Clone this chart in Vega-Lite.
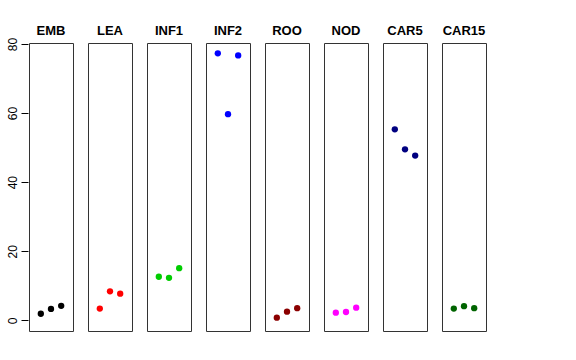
{
  "$schema": "https://vega.github.io/schema/vega-lite/v6.json",
  "padding": {"left": 6, "top": 25, "right": 5, "bottom": 5},
  "background": "white",
  "data": {"values": [
    {"group": "EMB", "idx": 1, "value": 1.9},
    {"group": "EMB", "idx": 2, "value": 3.3},
    {"group": "EMB", "idx": 3, "value": 4.2},
    {"group": "LEA", "idx": 1, "value": 3.4},
    {"group": "LEA", "idx": 2, "value": 8.4},
    {"group": "LEA", "idx": 3, "value": 7.7},
    {"group": "INF1", "idx": 1, "value": 12.6},
    {"group": "INF1", "idx": 2, "value": 12.3},
    {"group": "INF1", "idx": 3, "value": 15.1},
    {"group": "INF2", "idx": 1, "value": 77.3},
    {"group": "INF2", "idx": 2, "value": 59.7},
    {"group": "INF2", "idx": 3, "value": 76.7},
    {"group": "ROO", "idx": 1, "value": 0.75},
    {"group": "ROO", "idx": 2, "value": 2.5},
    {"group": "ROO", "idx": 3, "value": 3.5},
    {"group": "NOD", "idx": 1, "value": 2.2},
    {"group": "NOD", "idx": 2, "value": 2.4},
    {"group": "NOD", "idx": 3, "value": 3.65},
    {"group": "CAR5", "idx": 1, "value": 55.3},
    {"group": "CAR5", "idx": 2, "value": 49.5},
    {"group": "CAR5", "idx": 3, "value": 47.7},
    {"group": "CAR15", "idx": 1, "value": 3.4},
    {"group": "CAR15", "idx": 2, "value": 4.1},
    {"group": "CAR15", "idx": 3, "value": 3.5}
  ]},
  "facet": {
    "column": {
      "field": "group",
      "type": "nominal",
      "sort": ["EMB", "LEA", "INF1", "INF2", "ROO", "NOD", "CAR5", "CAR15"],
      "header": {
        "title": null,
        "labelFont": "Liberation Sans",
        "labelFontWeight": "bold",
        "labelFontSize": 13,
        "labelColor": "black",
        "labelPadding": 4
      }
    }
  },
  "spacing": 13,
  "spec": {
    "width": 44,
    "height": 288,
    "mark": {"type": "circle", "size": 40, "opacity": 1},
    "encoding": {
      "x": {
        "field": "idx",
        "type": "quantitative",
        "scale": {"domain": [-0.16, 4.16], "nice": false, "zero": false},
        "axis": null
      },
      "y": {
        "field": "value",
        "type": "quantitative",
        "scale": {"domain": [-3.1, 80.3], "nice": false, "zero": false},
        "axis": {
          "values": [0, 20, 40, 60, 80],
          "title": null,
          "grid": false,
          "domain": false,
          "tickSize": 7,
          "tickColor": "black",
          "labelAngle": -90,
          "labelAlign": "center",
          "labelBaseline": "bottom",
          "labelFont": "Liberation Sans",
          "labelFontSize": 12,
          "labelColor": "black",
          "labelPadding": 2
        }
      },
      "color": {
        "field": "group",
        "type": "nominal",
        "scale": {
          "domain": ["EMB", "LEA", "INF1", "INF2", "ROO", "NOD", "CAR5", "CAR15"],
          "range": ["#000000", "#FF0000", "#00CD00", "#0000FF", "#8B0000", "#FF00FF", "#000080", "#006400"]
        },
        "legend": null
      }
    }
  },
  "config": {"view": {"stroke": "#333333", "strokeWidth": 1}}
}
